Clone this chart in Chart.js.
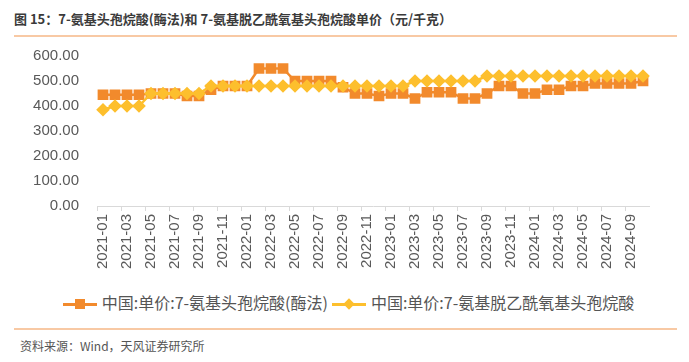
<!DOCTYPE html>
<html>
<head>
<meta charset="utf-8">
<script src="https://cdn.jsdelivr.net/npm/chart.js@4"></script>
<style>
  body { margin: 0; width: 689px; height: 362px; background: #fff; position: relative; overflow: hidden;
         font-family: "Noto Sans CJK SC", "Liberation Sans", sans-serif; }
  #title { position: absolute; left: 14px; top: 9px; font-size: 13px; font-weight: bold; color: #3a3a3a; white-space: nowrap; }
  .rule { position: absolute; left: 14px; width: 663px; height: 2px; background: #f8c9a4; }
  #wrap { position: absolute; left: 0; top: 37px; width: 689px; height: 243px; }
  #legend { position: absolute; left: 4px; width: 689px; top: 287px; text-align: center; font-size: 16px; color: #555; white-space: nowrap; }
  .item { display: inline-block; vertical-align: middle; margin: 0 2px; }
  .icon { display: inline-block; position: relative; width: 34px; height: 14px; vertical-align: middle; margin-right: 5px; }
  .icon .ln { position: absolute; left: 0; right: 0; top: 6px; height: 3px; }
  .icon .sq { position: absolute; left: 12px; top: 2px; width: 10px; height: 10px; }
  .icon .dm { position: absolute; left: 13px; top: 3px; width: 8px; height: 8px; transform: rotate(45deg); }
  #source { position: absolute; left: 20px; top: 337px; font-size: 12px; color: #555; }
</style>
</head>
<body>
<div id="title">图 15：7-氨基头孢烷酸(酶法)和 7-氨基脱乙酰氧基头孢烷酸单价（元/千克）</div>
<div class="rule" style="top:35px"></div>
<div id="wrap"><canvas id="chart"></canvas></div>
<div id="legend"></div>
<div class="rule" style="top:328px"></div>
<div id="source">资料来源：Wind，天风证券研究所</div>
<script>
// Mois (2021-01 à 2024-10)
const months = [
  '2021-01','2021-02','2021-03','2021-04','2021-05','2021-06','2021-07','2021-08','2021-09','2021-10','2021-11','2021-12',
  '2022-01','2022-02','2022-03','2022-04','2022-05','2022-06','2022-07','2022-08','2022-09','2022-10','2022-11','2022-12',
  '2023-01','2023-02','2023-03','2023-04','2023-05','2023-06','2023-07','2023-08','2023-09','2023-10','2023-11','2023-12',
  '2024-01','2024-02','2024-03','2024-04','2024-05','2024-06','2024-07','2024-08','2024-09','2024-10'
];

// 7-ACA (酶法)
const priceACA = [
  445, 445, 445, 445, 450, 450, 450, 440, 440, 465, 480, 480,
  480, 550, 550, 550, 500, 500, 500, 500, 475, 450, 450, 440,
  450, 450, 430, 455, 455, 455, 430, 430, 450, 480, 480, 450,
  450, 465, 465, 480, 480, 490, 490, 490, 490, 500
];

// 7-ADCA
const priceADCA = [
  385, 400, 400, 400, 450, 450, 450, 450, 450, 480, 480, 480,
  480, 480, 480, 480, 480, 480, 480, 480, 480, 480, 480, 480,
  480, 480, 500, 500, 500, 500, 500, 500, 520, 520, 520, 520,
  520, 520, 520, 520, 520, 520, 520, 520, 520, 520
];

const yTicks = [0, 100, 200, 300, 400, 500, 600];

const seriesNames = ['中国:单价:7-氨基头孢烷酸(酶法)', '中国:单价:7-氨基脱乙酰氧基头孢烷酸'];
const colorACA = '#f28a2c';
const colorADCA = '#fdbf2d';

// Légende en HTML (ligne + marqueur)
document.getElementById('legend').innerHTML =
  '<span class="item"><span class="icon"><span class="ln" style="background:' + colorACA + '"></span>' +
  '<span class="sq" style="background:' + colorACA + '"></span></span>' + seriesNames[0] + '</span>' +
  '<span class="item"><span class="icon"><span class="ln" style="background:' + colorADCA + '"></span>' +
  '<span class="dm" style="background:' + colorADCA + '"></span></span>' + seriesNames[1] + '</span>';

const ctx = document.getElementById('chart').getContext('2d');
new Chart(ctx, {
  type: 'line',
  data: {
    labels: months,
    datasets: [
      {
        label: seriesNames[0],
        data: priceACA,
        borderColor: colorACA,
        backgroundColor: colorACA,
        borderWidth: 2.5,
        pointStyle: 'rect',
        pointRadius: 7.6,
        pointBorderWidth: 0,
        tension: 0,
        order: 1
      },
      {
        label: seriesNames[1],
        data: priceADCA,
        borderColor: colorADCA,
        backgroundColor: colorADCA,
        borderWidth: 2.5,
        pointStyle: 'rectRot',
        pointRadius: 6.8,
        pointBorderWidth: 0,
        tension: 0,
        order: 0
      }
    ]
  },
  options: {
    responsive: true,
    maintainAspectRatio: false,
    animation: false,
    layout: { padding: { left: 0, right: 40, top: 9, bottom: 0 } },
    plugins: { legend: { display: false }, tooltip: { enabled: false } },
    scales: {
      x: {
        offset: true,
        grid: {
          offset: true,
          drawOnChartArea: false,
          drawTicks: true,
          tickLength: 5,
          color: (c) => (c.index % 2 === 0 ? '#d9d9d9' : 'rgba(0,0,0,0)')
        },
        border: { display: true, color: '#d9d9d9', width: 1 },
        ticks: {
          autoSkip: false,
          minRotation: 90,
          maxRotation: 90,
          padding: 3,
          color: '#595959',
          font: { family: 'Liberation Sans', size: 15 },
          callback: (v, i) => (i % 2 === 0 ? months[i] : '')
        },
        afterFit: (scale) => { scale.height = 74; }
      },
      y: {
        min: yTicks[0],
        max: yTicks[yTicks.length - 1],
        afterBuildTicks: (scale) => { scale.ticks = yTicks.map(v => ({ value: v })); },
        grid: { display: false },
        border: { display: false },
        ticks: {
          padding: 10,
          color: '#595959',
          font: { family: 'Liberation Sans', size: 15 },
          callback: (v) => Number(v).toFixed(2)
        },
        afterFit: (scale) => { scale.width = 97; }
      }
    }
  }
});
</script>
</body>
</html>
